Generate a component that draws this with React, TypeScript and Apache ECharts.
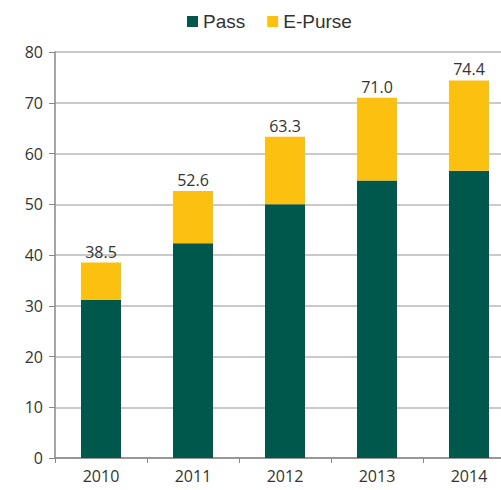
import React, { useEffect, useRef } from "react";
import * as echarts from "echarts";

const years = ["2010", "2011", "2012", "2013", "2014"];
const passValues = [31.2, 42.3, 50.0, 54.7, 56.6];
const totals = [38.5, 52.6, 63.3, 71.0, 74.4];
const ePurseValues = totals.map((t, i) => +(t - passValues[i]).toFixed(1));
const yTicks = [0, 10, 20, 30, 40, 50, 60, 70, 80];

const GREEN = "#00574b";
const YELLOW = "#fcc010";
const AXIS_FONT = "'Open Sans', 'Noto Sans', sans-serif";

export default function App() {
  const ref = useRef<HTMLDivElement>(null);

  useEffect(() => {
    if (!ref.current) return;
    const chart = echarts.init(ref.current, undefined, { renderer: "svg" });
    chart.setOption({
      animation: false,
      legend: {
        top: 7,
        left: 182,
        itemWidth: 11,
        itemHeight: 11,
        itemGap: 22,
        icon: "rect",
        textStyle: { fontFamily: "'Liberation Sans', Arial, sans-serif", fontSize: 19, color: "#333" },
        data: ["Pass", "E-Purse"],
      },
      // the last category runs past the visible edge, so the canvas is wider than the frame
      grid: { left: 55, right: 0, top: 52, bottom: 32, containLabel: false },
      xAxis: {
        type: "category",
        data: years,
        axisLine: { lineStyle: { color: "#888", width: 1.5 } },
        axisTick: { show: true, length: 5, lineStyle: { color: "#888" } },
        axisLabel: { fontFamily: AXIS_FONT, fontSize: 16, color: "#333", margin: 10 },
      },
      yAxis: {
        type: "value",
        min: yTicks[0],
        max: yTicks[yTicks.length - 1],
        interval: 10,
        axisLine: { show: true, lineStyle: { color: "#888", width: 1.5 } },
        axisTick: { show: true, length: 6, lineStyle: { color: "#888" } },
        axisLabel: { fontFamily: AXIS_FONT, fontSize: 16, color: "#333", margin: 12 },
        splitLine: { lineStyle: { color: "#b8b8b8", width: 1.5 } },
      },
      series: [
        {
          name: "Pass",
          type: "bar",
          stack: "total",
          barWidth: 40,
          itemStyle: { color: GREEN },
          data: passValues,
        },
        {
          name: "E-Purse",
          type: "bar",
          stack: "total",
          barWidth: 40,
          itemStyle: { color: YELLOW },
          data: ePurseValues,
          label: {
            show: true,
            position: "top",
            distance: 3,
            fontFamily: AXIS_FONT,
            fontSize: 16,
            color: "#333",
            formatter: (p: any) => totals[p.dataIndex].toFixed(1),
          },
        },
      ],
    });
    return () => chart.dispose();
  }, []);

  return (
    <div style={{ position: "fixed", left: 0, top: 0, width: 501, height: 490, overflow: "hidden", background: "#fff" }}>
      <div ref={ref} style={{ width: 515, height: 490 }} />
    </div>
  );
}
